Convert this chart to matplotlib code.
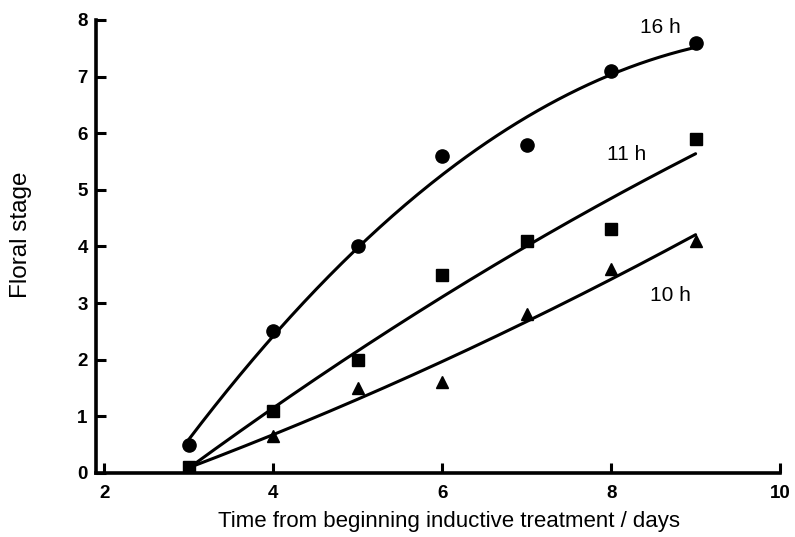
import numpy as np
import matplotlib
matplotlib.use("Agg")
import matplotlib.pyplot as plt

plt.rcParams['font.family'] = ['Liberation Sans', 'DejaVu Sans']

days = [3, 4, 5, 6, 7, 8, 9]
stage_16h = [0.5, 2.5, 4.0, 5.6, 5.8, 7.1, 7.6]
stage_11h = [0.1, 1.1, 2.0, 3.5, 4.1, 4.3, 5.9]
stage_10h = [0.1, 0.65, 1.5, 1.6, 2.8, 3.6, 4.1]

series = [
    ("16 h", stage_16h, 'o', 9.5, (8.58, 7.86)),
    ("11 h", stage_11h, 's', 8, (8.18, 5.62)),
    ("10 h", stage_10h, '^', 8, (8.70, 3.14)),
]

fig = plt.figure(figsize=(7.95, 5.37), dpi=100)
ax = fig.add_axes([0.1208, 0.1192, 0.8604, 0.8436])

x = np.array(days, dtype=float)
xs = np.linspace(3, 9, 200)
for name, ys, marker, ms, (lx, ly) in series:
    # quadratic least-squares curve through each photoperiod
    coef = np.polyfit(x, ys, 2)
    ax.plot(xs, np.polyval(coef, xs), color='black', lw=2.2, solid_capstyle='round')
    ax.plot(x, ys, linestyle='none', marker=marker, ms=ms, color='black')
    ax.text(lx, ly, name, fontsize=15, ha='center', va='center')

ax.set_xlim(1.9, 10)
ax.set_ylim(0, 8)
ax.set_xticks([2, 4, 6, 8, 10])
ax.set_yticks(range(0, 9))
ax.spines['top'].set_visible(False)
ax.spines['right'].set_visible(False)
for s in ('left', 'bottom'):
    ax.spines[s].set_linewidth(2.6)
ax.tick_params(direction='in', length=7, width=2.2, labelsize=13.5)
ax.tick_params(axis='x', pad=9)
ax.tick_params(axis='y', pad=6)
for lab in ax.get_xticklabels() + ax.get_yticklabels():
    lab.set_fontweight('bold')
ax.set_xlabel('Time from beginning inductive treatment / days', fontsize=16)
ax.set_ylabel('Floral stage', fontsize=17.5)
ax.xaxis.set_label_coords(0.516, -0.084)
ax.yaxis.set_label_coords(-0.094, 0.525)

fig.savefig('out.png', dpi=100)
